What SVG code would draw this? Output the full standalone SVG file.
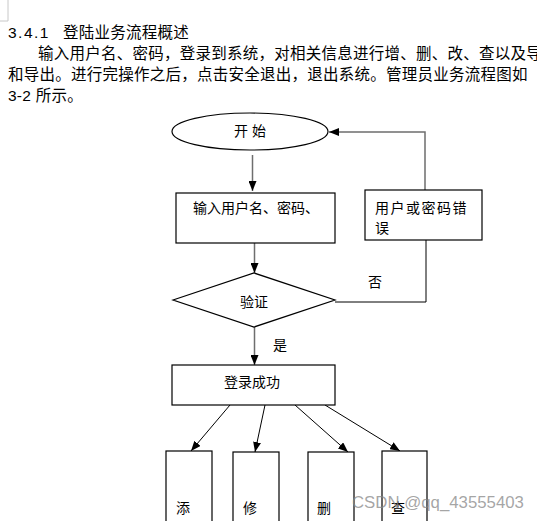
<svg xmlns="http://www.w3.org/2000/svg" width="537" height="521" viewBox="0 0 537 521">
<style>
.t{font-family:"Liberation Sans","Noto Sans CJK SC",sans-serif;fill:#000;}
.p{font-size:15.5px;letter-spacing:0.25px;}
.n{font-size:14px;}
.s{fill:#fff;stroke:#000;stroke-width:1.2;}
.c{fill:none;stroke:#6e6e6e;stroke-width:1.5;}
.d{fill:none;stroke:#000;stroke-width:1;}
</style>
<defs>
<marker id="ah" viewBox="0 0 10 8" refX="10" refY="4" markerWidth="10" markerHeight="8" markerUnits="userSpaceOnUse" orient="auto">
<path d="M0,0 L10,4 L0,8 Z" fill="#000"/>
</marker>
</defs>
<rect width="537" height="521" fill="#fff"/>
<path d="M8,0 V21 M0,21 H8" stroke="#c8c8c8" stroke-width="1" fill="none"/>
<g id="text-block">
<text class="t p" x="8" y="38"><tspan letter-spacing="1.5">3.4.1</tspan><tspan x="63">登陆业务流程概述</tspan></text>
<text class="t p" x="38" y="59">输入用户名、密码，登录到系统，对相关信息进行增、删、改、查以及导</text>
<text class="t p" x="8" y="80">和导出。进行完操作之后，点击安全退出，退出系统。管理员业务流程图如</text>
<text class="t p" x="8" y="101">3-2 所示。</text>
</g>
<g id="connectors">
<line class="c" x1="252.5" y1="155" x2="252.5" y2="191" marker-end="url(#ah)"/>
<polyline class="c" points="425,190 425,132 329,132" marker-end="url(#ah)"/>
<line class="c" x1="254.5" y1="243" x2="254.5" y2="273" marker-end="url(#ah)"/>
<polyline class="d" points="335,302 426,302 426,240"/>
<line class="c" x1="254.5" y1="327" x2="254.5" y2="365" marker-end="url(#ah)"/>
<line class="d" x1="230" y1="405" x2="191" y2="451" marker-end="url(#ah)"/>
<line class="d" x1="265" y1="405" x2="255" y2="452" marker-end="url(#ah)"/>
<line class="d" x1="295" y1="405" x2="348" y2="452" marker-end="url(#ah)"/>
<line class="d" x1="325" y1="405" x2="400" y2="451" marker-end="url(#ah)"/>
<text class="t n" x="375" y="287" text-anchor="middle">否</text>
<text class="t n" x="280" y="350" text-anchor="middle">是</text>
</g>
<g id="start">
<ellipse class="s" cx="250" cy="131.5" rx="78" ry="18.5"/>
<text class="t n" x="250" y="136" text-anchor="middle" xml:space="preserve">开 始</text>
</g>
<g id="input">
<rect class="s" x="176" y="193" width="159" height="50"/>
<text class="t n" x="193" y="213">输入用户名、密码、</text>
</g>
<g id="error">
<rect class="s" x="365" y="190" width="117" height="50"/>
<text class="t n" x="375" y="213" letter-spacing="1.5">用户或密码错</text>
<text class="t n" x="375" y="233">误</text>
</g>
<g id="verify">
<polygon class="s" points="173,300 254,273 335,300 254,327"/>
<text class="t n" x="254" y="307" text-anchor="middle">验证</text>
</g>
<g id="success">
<rect class="s" x="172" y="365" width="163" height="40"/>
<text class="t n" x="252" y="387" text-anchor="middle">登录成功</text>
</g>
<g id="add">
<rect class="s" x="166" y="451" width="46" height="80"/>
<text class="t n" x="183" y="513" text-anchor="middle">添</text>
</g>
<g id="modify">
<rect class="s" x="233" y="452" width="46" height="80"/>
<text class="t n" x="250" y="513" text-anchor="middle">修</text>
</g>
<g id="delete">
<rect class="s" x="308" y="452" width="46" height="80"/>
<text class="t n" x="324" y="513" text-anchor="middle">删</text>
</g>
<g id="query">
<rect class="s" x="382" y="451" width="45" height="80"/>
<text class="t n" x="398" y="513" text-anchor="middle">查</text>
</g>
<text x="352" y="508" font-family="Liberation Sans, sans-serif" font-size="16.8" fill="#888" fill-opacity="0.75">CSDN @qq_43555403</text>
</svg>
